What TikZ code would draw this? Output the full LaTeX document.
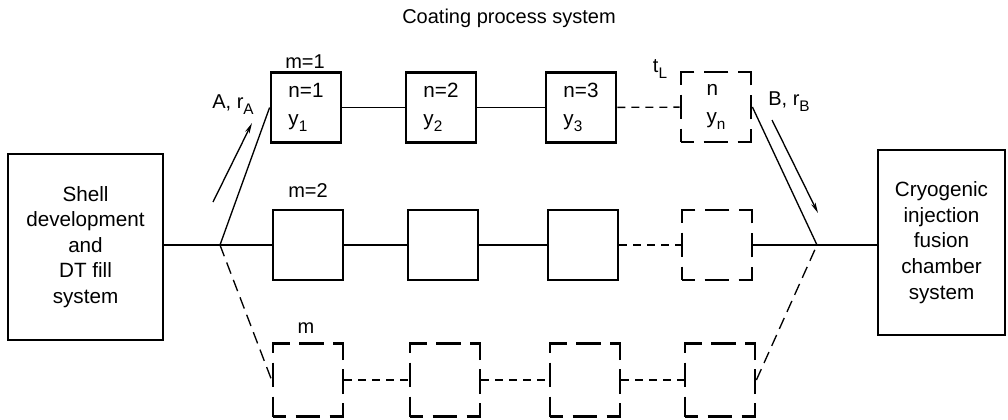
\documentclass[tikz,border=0pt]{standalone}
\usepackage{fontspec}
\setmainfont{Liberation Sans}
\usetikzlibrary{arrows.meta,calc}
\newcommand\lowsub[1]{\raisebox{-0.55ex}{\fontsize{11.5}{11.5}\selectfont #1}}
\begin{document}
\begin{tikzpicture}[x=0.75pt,y=-0.75pt,
  lbl/.style={font=\fontsize{15}{19}\selectfont, inner sep=0pt},
  sysbox/.style={draw, line width=2.1pt, align=center, inner sep=0pt,
    font=\fontsize{15.5}{19.2}\selectfont},
  stage/.style={draw, line width=2.1pt, minimum width=52.5pt, minimum height=52.5pt,
    inner sep=0pt, align=left, font=\fontsize{15.5}{21}\selectfont},
  dstage/.style={stage, dash pattern=on 20pt off 7pt on 18.5pt off 7pt, dash phase=10pt},
  conn/.style={line width=1pt},
  shortdash/.style={dash pattern=on 6pt off 4.5pt},
  longdash/.style={dash pattern=on 9pt off 5pt},
  arr/.style={line width=1pt, -{Stealth[length=8pt,width=3.5pt]}}]
\useasboundingbox (0,0) rectangle (1008,419);

\node[lbl] (title) at (509,18) {Coating process system};

\node[sysbox, minimum width=116.25pt, minimum height=139.5pt] (shell) at (85.5,247)
  {Shell\\development\\and\\DT fill\\system};
\node[sysbox, minimum width=95.25pt, minimum height=138.75pt] (cryo) at (941.5,242.5)
  {Cryogenic\\injection\\fusion\\chamber\\system};

% row m=1
\node[stage]  (a1) at (306,107.5) {n=1\\y\lowsub{1}};
\node[stage]  (a2) at (441,107.5) {n=2\\y\lowsub{2}};
\node[stage]  (a3) at (581,107.5) {n=3\\y\lowsub{3}};
\node[dstage] (a4) at (716,107) {n\\y\lowsub{n}};
% row m=2
\node[stage]  (b1) at (308,245) {};
\node[stage]  (b2) at (443,245) {};
\node[stage]  (b3) at (583,245) {};
\node[dstage] (b4) at (717,245) {};
% row m
\node[dstage, minimum height=55pt] (c1) at (308,380) {};
\node[dstage, minimum height=55pt] (c2) at (445,380) {};
\node[dstage, minimum height=55pt] (c3) at (585,380) {};
\node[dstage, minimum height=55pt] (c4) at (720,380) {};

\node[lbl] (m1) at (305,62) {m=1};
\node[lbl] (m2) at (308,191) {m=2};
\node[lbl] (m3) at (306,328) {m};
\node[lbl] (tl) at (660,69) {t\lowsub{L}};
\node[lbl] (la) at (233,105) {A, r\lowsub{A}};
\node[lbl] (lb) at (789,102) {B, r\lowsub{B}};

\coordinate (sL) at (220,245);
\coordinate (sR) at (817,245);

\draw[conn] (shell.east |- sL) -- (sL) -- (b1.west);
\draw[conn] (sL) -- (a1.west);
\draw[conn, longdash] (sL) -- (c1.west);

\draw[conn] (a1) -- (a2);
\draw[conn] (a2) -- (a3);
\draw[conn, shortdash] (a3) -- (a4);
\draw[conn] (b1) -- (b2);
\draw[conn] (b2) -- (b3);
\draw[conn, shortdash] (b3) -- (b4);
\draw[conn, shortdash] (c1) -- (c2);
\draw[conn, shortdash] (c2) -- (c3);
\draw[conn, shortdash] (c3) -- (c4);

\draw[conn] (a4.east) -- (sR);
\draw[conn] (b4.east) -- (sR) -- (cryo.west |- sR);
\draw[conn, longdash] (c4.east) -- (sR);

\coordinate (aA1) at (213,202);
\coordinate (aA2) at (252,123);
\draw[arr] (aA1) -- (aA2);
\coordinate (aB1) at (772,120);
\coordinate (aB2) at (818,213);
\draw[arr] (aB1) -- (aB2);
\end{tikzpicture}
\end{document}
